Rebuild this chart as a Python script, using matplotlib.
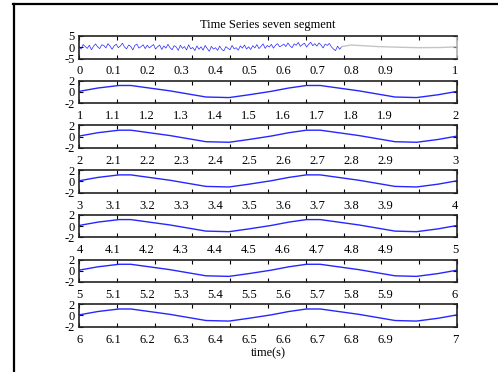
import matplotlib
matplotlib.use("Agg")
import matplotlib.pyplot as plt
from matplotlib.lines import Line2D

# ---- data ----
# segment 0: noisy part (blue) then the quiet tail (gray)
noise_t_end = 0.695
noise_y = [
    0.5, -0.8, 1.2, 0.3, -0.5, 0.9, -1.1, 0.4, 1.5, 0.2, -0.6, 1.1, 0.8, -0.3,
    1.6, 0.5, -0.9, 0.7, 1.3, -0.2, 0.6, 1.8, 0.1, -0.7, 1.0, 0.4, -1.2, 0.8,
    1.4, -0.4, 0.3, 1.1, -0.6,
    0.9, -0.3, 0.5, 1.2, -0.8, 0.2, 1.0, -1.0, 0.6, -0.4, 1.3, -0.2, -1.1, 0.7,
    0.1, -1.4, 0.9, -0.5, 0.3, -1.2, 1.1, -0.7, -0.1, -1.5, 0.6, -0.9, 0.2,
    -1.3, 0.8, -0.6, -1.8, 0.4, -0.8,
    -0.2, -1.4, 0.5, -0.9, -1.6, 0.3, -0.5, -1.1, 0.8, -0.7, -0.2, -1.3, 0.6,
    -0.4, 1.0, -0.8, 0.2, -1.0, 0.7, -0.3, 1.2, -0.6, 0.4, 1.5, -0.5, 0.8, 0.1,
    1.3, -0.4, 0.9, 1.6, 0.2, 0.7,
    1.4, 0.3, 1.9, 0.6, -0.2, 1.5, 0.9, 2.1, 0.4, 1.2, 1.8, 0.1, 1.3, 2.2, 0.7,
    1.6, 0.5, 1.9, 1.0, -0.3, 1.4, 0.8, 1.7, 0.2, -0.8, -1.5, 0.5, -0.9, 0.3,
]
tail_t = [0.695, 0.72, 0.79, 0.85, 0.90, 0.96, 1.0]
tail_y = [0.3, 1.0, 0.3, 0.0, -0.2, -0.1, 0.2]

# segments 1..6: slow wave, vertices given as offset within the segment
wave_u = [0.0, 0.05, 0.106, 0.137, 0.24, 0.336, 0.397, 0.45, 0.508,
          0.555, 0.602, 0.638, 0.74, 0.836, 0.893, 0.95, 1.0]
wave_y = [0.1, 0.7, 1.15, 1.15, 0.2, -0.9, -1.0, -0.5, 0.1,
          0.7, 1.15, 1.15, 0.2, -0.9, -1.0, -0.5, 0.1]

segments = [0, 1, 2, 3, 4, 5, 6]
ylims = [5, 2, 2, 2, 2, 2, 2]
title = "Time Series seven segment"
xlabel = "time(s)"

plt.rcParams.update({
    "font.family": "serif",
    "font.serif": ["Liberation Serif", "DejaVu Serif"],
    "font.size": 9,
    "savefig.facecolor": "white", "figure.facecolor": "white",
})

W, H = 498, 372
fig = plt.figure(figsize=(W / 100, H / 100), dpi=100)

left, right = 79, 457
top0, step, h = 36, 44.7, 22.5
blue = "#2626ff"

for i, seg in enumerate(segments):
    top = top0 + step * i
    ax = fig.add_axes([left / W, 1 - (top + h) / H, (right - left) / W, h / H])
    if i == 0:
        n = len(noise_y)
        t = [noise_t_end * k / (n - 1) for k in range(n)]
        ax.plot(t, noise_y, color=blue, lw=0.5)
        ax.plot(tail_t, tail_y, color="#c4c4c4", lw=1.0)
        ax.spines["right"].set_color("#b0b0b0")
    else:
        ax.plot([seg + u for u in wave_u], wave_y, color=blue, lw=1.0)
    lim = ylims[i]
    ax.set_xlim(seg, seg + 1)
    ax.set_ylim(-lim, lim)
    ax.set_yticks([-lim, 0, lim])
    ax.set_yticklabels([str(-lim), "0", str(lim)])
    # tick marks uniform, labels squeezed as in the scanned original
    ax.set_xticks([seg + k / 10 for k in range(11)])
    ax.set_xticklabels([])
    lab_pos = [seg + 0.002] + [seg + 0.09 * k for k in range(1, 10)] + [seg + 0.995]
    labs = ["%g" % (seg + k / 10) for k in range(10)] + [str(seg + 1)]
    ax.set_xticks(lab_pos, labels=labs, minor=True)
    ax.tick_params(which="major", direction="in", length=3, width=0.8,
                   top=True, right=True, labelsize=9, pad=3, colors="black")
    ax.tick_params(which="minor", length=0, labelsize=9, pad=5)
    for name, sp in ax.spines.items():
        sp.set_linewidth(1.2)
        if not (i == 0 and name == "right"):
            sp.set_color("#222222")
    if i == 0:
        ax.set_title(title, fontsize=9, pad=6)
    if i == len(segments) - 1:
        ax.set_xlabel(xlabel, fontsize=9, labelpad=1)

# border lines of the scanned page
fig.add_artist(Line2D([13 / W, 1], [1 - 4 / H, 1 - 4 / H], color="black",
                      lw=1.6, transform=fig.transFigure))
fig.add_artist(Line2D([14 / W, 14 / W], [0, 1 - 4 / H], color="black",
                      lw=1.6, transform=fig.transFigure))

fig.savefig("out.png", dpi=100)
